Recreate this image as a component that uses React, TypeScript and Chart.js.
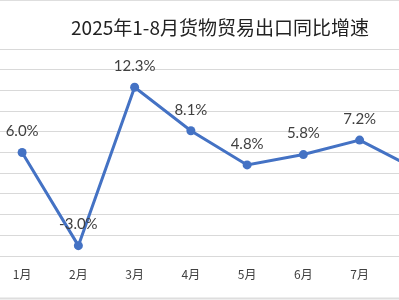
import React, { useEffect, useRef } from "react";
import { Chart, registerables } from "chart.js";

Chart.register(...registerables);

const title = "2025年1-8月货物贸易出口同比增速";
const months = ["1月", "2月", "3月", "4月", "5月", "6月", "7月", "8月"];
const exportGrowth = [6.0, -3.0, 12.3, 8.1, 4.8, 5.8, 7.2, 4.4];
const yMin = -4;
const yMax = 16;
const yStep = 2;

const CANVAS_W = 480;
const CANVAS_H = 300;
const OFFSET_X = -20;

export default function App() {
  const ref = useRef<HTMLCanvasElement | null>(null);

  useEffect(() => {
    document.body.style.margin = "0";
    const canvas = ref.current;
    if (!canvas) return;

    const decor = {
      id: "decor",
      beforeDraw(chart: any) {
        const ctx = chart.ctx;
        ctx.save();
        ctx.fillStyle = "#ffffff";
        ctx.fillRect(0, 0, chart.width, chart.height);
        ctx.fillStyle = "#dedede";
        ctx.fillRect(0, 0, chart.width, 1);
        ctx.fillRect(0, chart.height - 2.5, chart.width, 2);
        ctx.restore();
      },
      afterDraw(chart: any) {
        const ctx = chart.ctx;
        ctx.save();
        // title
        ctx.fillStyle = "#222222";
        ctx.font = '19px "Noto Sans CJK SC"';
        ctx.textAlign = "center";
        ctx.textBaseline = "middle";
        const cx = (chart.chartArea.left + chart.chartArea.right) / 2 + 1;
        ctx.fillText(title, cx, 28);
        // data labels
        ctx.fillStyle = "#404040";
        ctx.font = '15px Lato, "Noto Sans", sans-serif';
        const meta = chart.getDatasetMeta(0);
        meta.data.forEach((pt: any, i: number) => {
          const v = exportGrowth[i];
          ctx.fillText(v.toFixed(1) + "%", pt.x, pt.y - 21);
        });
        ctx.restore();
      },
    };

    const chart = new Chart(canvas, {
      type: "line",
      data: {
        labels: months,
        datasets: [
          {
            data: exportGrowth,
            borderColor: "#4472C4",
            backgroundColor: "#4472C4",
            borderWidth: 3,
            pointRadius: 4.5,
            pointBackgroundColor: "#4472C4",
            pointBorderWidth: 0,
            tension: 0,
          },
        ],
      },
      options: {
        responsive: false,
        animation: false,
        devicePixelRatio: 1,
        layout: { padding: { left: 14, right: 16, top: 49, bottom: 7.6 } },
        plugins: {
          legend: { display: false },
          title: { display: false },
          tooltip: { enabled: false },
        },
        scales: {
          x: {
            offset: true,
            grid: { display: false, drawTicks: false },
            border: { display: false },
            ticks: {
              padding: 11,
              color: "#404040",
              font: { family: '"Noto Sans CJK SC"', size: 12 },
              maxRotation: 0,
            },
          },
          y: {
            min: yMin,
            max: yMax,
            ticks: { display: false, stepSize: yStep },
            grid: { color: "#d9d9d9", lineWidth: 1, drawTicks: false },
            border: { display: false },
          },
        },
      },
      plugins: [decor],
    });

    return () => chart.destroy();
  }, []);

  return (
    <div
      style={{
        position: "fixed",
        left: 0,
        top: 0,
        width: 399,
        height: 300,
        overflow: "hidden",
        background: "#fff",
      }}
    >
      <canvas
        ref={ref}
        width={CANVAS_W}
        height={CANVAS_H}
        style={{ position: "absolute", left: OFFSET_X, top: 0, width: CANVAS_W, height: CANVAS_H }}
      />
    </div>
  );
}
